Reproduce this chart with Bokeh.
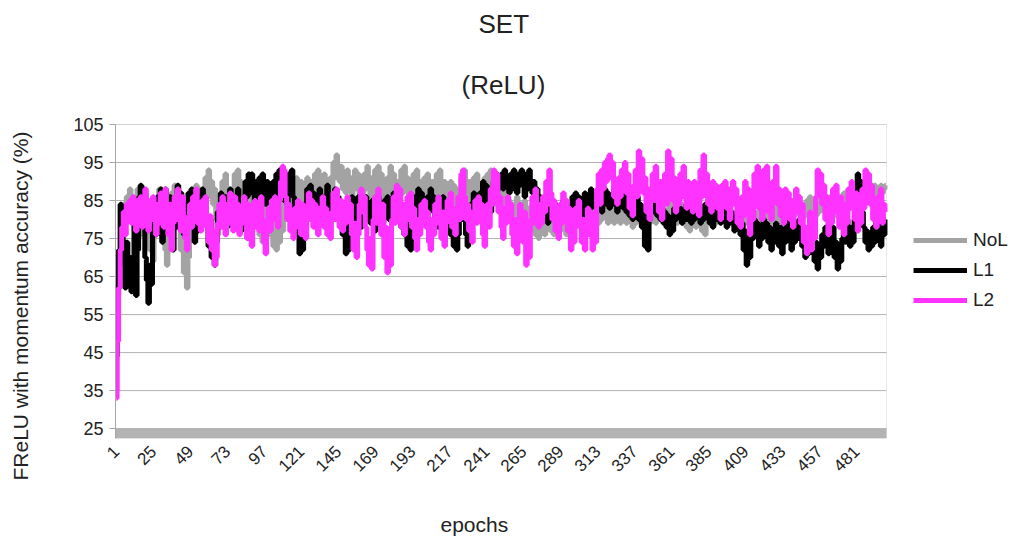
from bokeh.plotting import figure
from bokeh.models import Range1d, FixedTicker, Legend, LegendItem, BoxAnnotation, Title
from bokeh.embed import file_html
from bokeh.resources import INLINE
from math import pi

# Test accuracy (%) per training epoch for the three regularisation settings
epochs = list(range(1, 501))

nol = [
    35, 50, 64, 72, 78, 84, 79, 86, 81, 88, 80, 85, 77, 84, 88, 81, 76, 85, 80, 87, 83, 77, 72, 80, 69,
    78, 84, 80, 88, 85, 79, 83, 72, 68, 76, 82, 87, 80, 89, 84, 78, 83, 72, 80, 66, 74, 62, 70, 80, 75,
    86, 80, 89, 83, 88, 80, 86, 82, 91, 87, 93, 86, 90, 84, 88, 80, 76, 84, 79, 90, 86, 92, 83, 88, 80,
    86, 82, 92, 87, 93, 85, 90, 84, 88, 80, 78, 84, 88, 82, 90, 85, 80, 87, 76, 82, 74, 80, 86, 78, 84,
    76, 82, 73, 79, 72, 78, 74, 82, 77, 86, 80, 88, 84, 90, 85, 89, 86, 91, 87, 84, 90, 85, 89, 84, 91,
    87, 84, 90, 86, 92, 88, 93, 87, 91, 86, 92, 88, 90, 85, 91, 88, 95, 91, 97, 93, 90, 94, 88, 92, 87,
    93, 88, 91, 86, 90, 93, 88, 92, 86, 90, 84, 92, 88, 94, 90, 86, 91, 87, 93, 89, 94, 88, 92, 86, 90,
    84, 91, 87, 94, 89, 92, 86, 90, 84, 88, 93, 87, 94, 89, 91, 85, 90, 86, 92, 88, 93, 87, 90, 84, 88,
    91, 86, 92, 88, 85, 90, 84, 88, 92, 87, 93, 89, 85, 90, 84, 88, 83, 90, 86, 89, 84, 88, 83, 87, 91,
    86, 93, 88, 84, 90, 83, 87, 91, 86, 92, 88, 84, 89, 85, 91, 87, 92, 88, 93, 86, 90, 84, 88, 91, 86,
    84, 88, 82, 86, 81, 85, 80, 84, 79, 83, 86, 80, 84, 78, 82, 85, 79, 83, 77, 81, 84, 78, 76, 80, 75,
    82, 77, 80, 76, 81, 78, 83, 77, 80, 76, 82, 78, 81, 77, 84, 79, 82, 76, 80, 78, 83, 77, 81, 78, 80,
    82, 78, 81, 77, 80, 83, 79, 82, 78, 81, 84, 80, 83, 79, 82, 80, 85, 81, 83, 79, 84, 80, 82, 79, 85,
    81, 83, 79, 82, 80, 84, 79, 83, 80, 82, 78, 81, 79, 84, 80, 82, 79, 83, 80, 81, 84, 79, 82, 80, 83,
    79, 82, 80, 84, 81, 83, 79, 82, 80, 85, 81, 84, 80, 83, 79, 82, 80, 84, 79, 82, 78, 81, 77, 80, 79,
    82, 78, 81, 79, 83, 77, 80, 76, 79, 82, 80, 84, 81, 83, 79, 82, 80, 84, 81, 83, 79, 82, 80, 84, 81,
    79, 82, 78, 81, 80, 83, 78, 81, 79, 82, 80, 84, 79, 77, 80, 78, 82, 80, 83, 81, 79, 84, 81, 83, 80,
    82, 79, 83, 81, 85, 80, 83, 79, 82, 80, 84, 81, 85, 80, 83, 81, 85, 82, 86, 83, 80, 84, 81, 85, 82,
    86, 83, 80, 84, 81, 85, 82, 87, 84, 86, 82, 85, 81, 86, 83, 87, 84, 81, 85, 83, 86, 82, 87, 84, 85,
    88, 84, 87, 83, 86, 84, 88, 85, 87, 83, 86, 84, 88, 85, 87, 84, 86, 89, 85, 88, 86, 89, 87, 88, 89,
]

l1 = [
    44, 60, 72, 84, 78, 68, 62, 74, 64, 70, 61, 66, 82, 60, 72, 86, 89, 80, 88, 70, 64, 58, 68, 63, 78,
    84, 76, 86, 80, 88, 74, 82, 88, 84, 77, 86, 80, 72, 84, 78, 89, 83, 87, 80, 76, 84, 79, 87, 82, 88,
    80, 74, 83, 77, 86, 82, 88, 80, 85, 78, 73, 80, 70, 76, 68, 74, 82, 78, 87, 83, 80, 86, 78, 84, 88,
    83, 78, 86, 80, 88, 81, 77, 85, 80, 90, 86, 92, 87, 92, 88, 84, 90, 85, 91, 86, 92, 88, 84, 90, 85,
    88, 83, 90, 86, 92, 87, 93, 88, 91, 85, 89, 84, 92, 88, 93, 86, 82, 76, 84, 71, 78, 72, 84, 80, 88,
    84, 89, 82, 87, 80, 85, 82, 88, 84, 80, 86, 82, 89, 84, 80, 86, 82, 88, 84, 86, 80, 84, 76, 82, 71,
    78, 72, 82, 86, 80, 84, 79, 86, 82, 78, 85, 81, 86, 80, 84, 79, 85, 81, 77, 83, 86, 80, 84, 79, 85,
    81, 86, 80, 84, 82, 87, 83, 86, 81, 84, 78, 83, 76, 80, 73, 78, 72, 77, 82, 86, 80, 88, 84, 87, 82,
    85, 80, 86, 82, 88, 83, 86, 80, 84, 78, 83, 80, 86, 82, 84, 79, 83, 76, 80, 73, 78, 72, 76, 82, 86,
    80, 84, 76, 73, 79, 84, 80, 87, 82, 86, 82, 87, 84, 90, 86, 89, 84, 88, 82, 86, 90, 86, 92, 88, 91,
    92, 88, 93, 89, 91, 87, 92, 88, 93, 90, 87, 92, 89, 93, 90, 86, 92, 88, 93, 89, 87, 90, 84, 88, 82,
    86, 81, 85, 80, 84, 79, 83, 80, 85, 81, 84, 79, 83, 80, 82, 85, 80, 84, 79, 83, 81, 86, 82, 87, 84,
    86, 82, 85, 81, 87, 84, 86, 82, 88, 84, 86, 83, 87, 84, 86, 82, 85, 88, 84, 87, 83, 86, 84, 88, 85,
    82, 86, 84, 87, 83, 86, 82, 85, 81, 84, 80, 85, 82, 86, 80, 84, 78, 82, 73, 76, 72, 80, 84, 86, 82,
    85, 81, 84, 80, 83, 79, 82, 78, 81, 76, 80, 77, 83, 80, 84, 81, 83, 79, 82, 80, 84, 80, 83, 79, 82,
    80, 84, 81, 83, 79, 82, 80, 84, 81, 83, 79, 82, 78, 81, 83, 80, 82, 79, 83, 80, 82, 78, 81, 79, 82,
    80, 77, 81, 78, 80, 76, 79, 72, 77, 68, 74, 70, 78, 75, 80, 76, 79, 73, 78, 75, 80, 76, 79, 74, 78,
    72, 77, 74, 79, 76, 73, 78, 71, 76, 74, 80, 75, 78, 72, 77, 74, 79, 75, 80, 76, 73, 78, 70, 75, 71,
    77, 72, 75, 69, 74, 67, 72, 70, 76, 73, 78, 74, 71, 76, 72, 78, 70, 74, 67, 72, 69, 75, 78, 74, 80,
    76, 73, 78, 74, 80, 84, 92, 86, 90, 82, 78, 74, 77, 72, 76, 73, 78, 74, 80, 75, 78, 73, 79, 76, 80,
]

l2 = [
    33, 48, 62, 72, 78, 82, 76, 84, 80, 85, 79, 86, 83, 77, 85, 80, 86, 78, 84, 88, 81, 77, 85, 80, 86,
    82, 76, 84, 79, 87, 83, 78, 88, 81, 76, 84, 72, 79, 86, 80, 88, 83, 77, 86, 81, 75, 72, 80, 84, 78,
    86, 81, 88, 79, 84, 77, 85, 80, 86, 78, 74, 81, 72, 77, 68, 70, 79, 84, 78, 86, 81, 76, 84, 79, 87,
    82, 77, 86, 80, 84, 76, 83, 79, 86, 81, 75, 84, 78, 73, 80, 85, 78, 83, 77, 86, 80, 74, 71, 78, 83,
    77, 85, 80, 86, 82, 78, 85, 90, 94, 93, 86, 80, 84, 77, 82, 75, 83, 78, 85, 80, 76, 84, 79, 75, 83,
    87, 80, 85, 78, 84, 79, 76, 83, 80, 86, 78, 83, 76, 81, 75, 82, 87, 80, 88, 84, 78, 85, 77, 82, 79,
    86, 80, 84, 76, 72, 79, 70, 76, 84, 88, 82, 86, 78, 72, 68, 75, 67, 80, 86, 79, 88, 82, 76, 84, 70,
    78, 66, 72, 68, 80, 86, 79, 89, 83, 88, 78, 84, 76, 82, 86, 80, 87, 78, 83, 75, 72, 80, 76, 84, 80,
    85, 78, 82, 74, 72, 80, 76, 84, 79, 86, 80, 75, 82, 73, 79, 85, 80, 87, 78, 83, 76, 81, 86, 80, 92,
    93, 86, 80, 84, 77, 82, 74, 80, 85, 79, 86, 80, 84, 76, 73, 79, 84, 78, 88, 84, 93, 88, 92, 82, 86,
    78, 75, 83, 79, 86, 81, 84, 76, 73, 80, 71, 79, 84, 78, 74, 82, 68, 75, 70, 80, 86, 79, 88, 83, 78,
    84, 79, 86, 82, 90, 84, 93, 87, 80, 85, 77, 82, 75, 84, 79, 87, 81, 85, 77, 83, 72, 78, 74, 83, 80,
    85, 78, 74, 80, 72, 79, 83, 76, 82, 72, 78, 74, 88, 92, 84, 93, 88, 95, 90, 96, 97, 91, 95, 86, 90,
    84, 91, 86, 93, 88, 95, 87, 92, 83, 88, 81, 89, 93, 86, 98, 92, 96, 87, 91, 82, 88, 80, 87, 92, 85,
    94, 88, 82, 90, 80, 86, 92, 84, 98, 90, 96, 85, 91, 82, 88, 84, 92, 86, 94, 87, 83, 90, 85, 88, 82,
    90, 84, 88, 81, 93, 86, 97, 89, 92, 84, 88, 82, 90, 85, 89, 83, 87, 80, 89, 85, 90, 83, 88, 80, 86,
    90, 84, 88, 79, 83, 78, 86, 81, 90, 85, 88, 76, 84, 80, 92, 86, 94, 83, 89, 80, 93, 85, 94, 82, 88,
    80, 90, 86, 94, 84, 88, 81, 86, 79, 88, 83, 87, 80, 85, 78, 84, 88, 82, 86, 79, 84, 74, 78, 71, 76,
    82, 72, 80, 75, 86, 93, 88, 92, 84, 89, 80, 86, 76, 83, 79, 88, 82, 89, 84, 78, 86, 80, 76, 84, 79,
    88, 83, 90, 84, 80, 87, 77, 84, 79, 88, 83, 93, 86, 92, 84, 89, 80, 85, 78, 86, 82, 88, 79, 84, 82,
]

series_names = ["NoL", "L1", "L2"]
series_colors = ["#a3a3a3", "#000000", "#ff33ff"]
x_ticks = list(range(1, 500, 24))
y_ticks = list(range(25, 106, 10))

assert len(nol) == len(l1) == len(l2) == len(epochs)

FONT = "Liberation Sans"
INK = "#222222"
GRID = "#b3b3b3"

# the frame runs to the right edge of the canvas so the legend can sit beside
# the plotting area; the epoch axis itself ends at X_END
X_START, X_END = 0.5, 500.5
FRAME_W, PLOT_W = 901, 771
x_view_end = X_START + (X_END - X_START) * FRAME_W / PLOT_W

p = figure(
    width=1016, height=540,
    x_range=Range1d(X_START, x_view_end), y_range=Range1d(22.4, 105),
    output_backend="svg", toolbar_location=None,
    min_border_left=115, min_border_right=0,
    min_border_top=124, min_border_bottom=102,
)
p.background_fill_color = "white"
p.border_fill_color = "white"
p.outline_line_color = None


def caption(text, size, standoff, **kw):
    return Title(text=text, text_font=FONT, text_font_size=size, text_font_style="normal",
                 text_color=INK, standoff=standoff, **kw)


def spacer(standoff):
    return Title(text=" ", text_font_size="1px", standoff=standoff)


# titles above, stacked from the frame outwards
p.add_layout(caption("(ReLU)", "26px", 50, align="left", offset=346), "above")
p.add_layout(caption("SET", "26px", 8, align="left", offset=363), "above")

# x axis title, below the tick labels
p.add_layout(spacer(23), "below")
p.add_layout(caption("epochs", "21px", 8, align="left", offset=325), "below")

# y axis title, left of the tick labels
p.add_layout(spacer(32), "left")
p.add_layout(caption("FReLU with momentum accuracy (%)", "21px", 8, align="left", offset=-42), "left")

# plotting area: horizontal grid lines, grey floor band and border
p.xgrid.visible = False
p.ygrid.visible = False
p.segment(x0=X_START, x1=X_END, y0=y_ticks, y1=y_ticks, line_color=GRID, line_width=1, level="underlay")
p.add_layout(BoxAnnotation(left=X_START, right=X_END, top=25, fill_color=GRID, fill_alpha=1.0,
                           line_alpha=0, level="underlay"))
p.add_layout(BoxAnnotation(left=X_START, right=X_END, fill_alpha=0, line_color=GRID, line_width=1,
                           level="underlay"))

xa = p.xaxis[0]
xa.ticker = FixedTicker(ticks=x_ticks)
xa.major_label_orientation = pi / 4
xa.axis_line_color = None
xa.major_tick_line_color = None
xa.minor_tick_line_color = None
xa.major_label_standoff = 4
xa.major_label_text_font = FONT
xa.major_label_text_font_size = "17px"
xa.major_label_text_color = INK

ya = p.yaxis[0]
ya.ticker = FixedTicker(ticks=y_ticks)
ya.axis_line_color = "#a6a6a6"
ya.major_tick_line_color = "#a6a6a6"
ya.major_tick_out = 6
ya.major_tick_in = 0
ya.minor_tick_line_color = None
ya.major_label_standoff = 6
ya.major_label_text_font = FONT
ya.major_label_text_font_size = "18px"
ya.major_label_text_color = INK

renderers = []
for vals, color in zip([nol, l1, l2], series_colors):
    r = p.step(epochs, vals, mode="center", line_width=5, line_color=color)
    renderers.append(r)

legend = Legend(
    items=[LegendItem(label=n, renderers=[r]) for n, r in zip(series_names, renderers)],
    location=(798, 126), orientation="vertical",
    glyph_width=54, glyph_height=24, label_standoff=6, spacing=6,
    padding=0, margin=0, border_line_color=None, background_fill_alpha=0,
    label_text_font=FONT, label_text_font_size="19px", label_text_color=INK,
)
p.add_layout(legend)

open("out.html", "w").write(file_html(p, INLINE))
